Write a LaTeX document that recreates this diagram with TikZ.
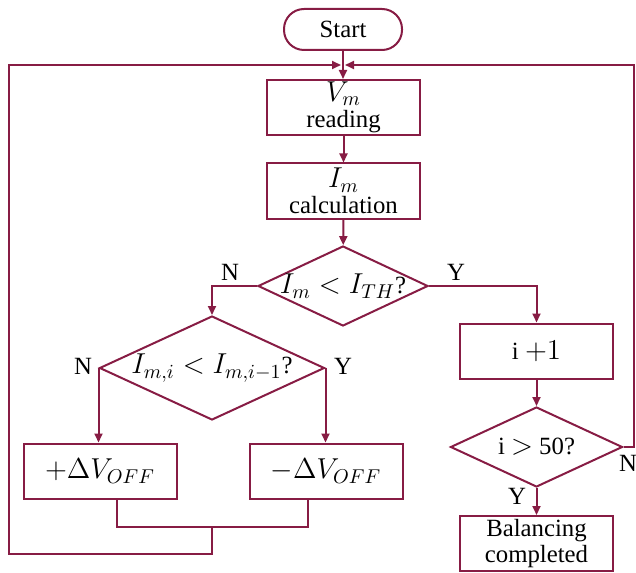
\documentclass[tikz,border=0pt]{standalone}
\usepackage{fontspec}
\setmainfont{Liberation Serif}[Scale=0.885]
\usetikzlibrary{arrows.meta,shapes.geometric}
\definecolor{wine}{RGB}{135,28,68}
\begin{document}
\begin{tikzpicture}[x=0.5pt,y=-0.5pt,
  every node/.style={font=\fontsize{14}{13}\selectfont},
  box/.style={draw=wine,line width=1pt,minimum width=76.5pt,minimum height=27.5pt,align=center,inner sep=1pt},
  startbox/.style={draw=wine,line width=1pt,rounded corners=10pt,minimum width=59pt,minimum height=20.5pt},
  decision/.style={draw=wine,line width=1pt,diamond,aspect=2.1,inner sep=-6pt},
  conn/.style={draw=wine,line width=1pt},
  arr/.style={conn,-{Triangle[length=4.5pt,width=4pt]}},
  lbl/.style={font=\fontsize{14}{13}\selectfont}]
\useasboundingbox (0,0) rectangle (636,572);
\node[startbox] (start) at (343,29.5) {Start};
\node[box] (vm) at (343.5,107.5) {$V_m$\\reading};
\node[box] (im) at (343.5,191) {$I_m$\\calculation};
\node[decision,minimum width=85pt,minimum height=40pt] (d1) at (343,286) {$I_m < I_{TH}$?};
\node[decision,minimum width=112.5pt,minimum height=52pt] (d2) at (212,368) {$I_{m,i} < I_{m,i-1}$?};
\node[box] (plus) at (100,471) {$+\Delta V_{OFF}$};
\node[box] (minus) at (326,471) {$-\Delta V_{OFF}$};
\node[box] (inc) at (536.5,351) {i $+1$};
\node[decision,minimum width=86pt,minimum height=40pt] (d3) at (536.5,447) {i $>$ 50?};
\node[box] (bal) at (536.5,543.5) {Balancing\\completed};
\coordinate (join) at (343,65);
\coordinate (mL) at (117,527);
\coordinate (mR) at (308,527);
\coordinate (mC) at (212,527);
% labels
\node[lbl] (n1) at (230,272) {N};
\node[lbl] (y1) at (456,272) {Y};
\node[lbl] (n2) at (83,366) {N};
\node[lbl] (y2) at (343,366) {Y};
\node[lbl] (n3) at (628,463) {N};
\node[lbl] (y3) at (517,496) {Y};
% connectors
\draw[arr] (start) -- (start |- vm.north);
\draw[arr] (vm) -- (im);
\draw[arr] (im) -- (d1);
\draw[arr] (d1.west) -| (d2.north);
\draw[arr] (d1.east) -| (inc.north);
\draw[arr] (d2.west) -- (d2.west |- plus.north);
\draw[arr] (d2.east) -- (d2.east |- minus.north);
\draw[arr] (inc) -- (d3);
\draw[arr] (d3) -- (bal);
\draw[conn] (plus.south -| mL) -- (mL) -- (mR) -- (minus.south -| mR);
\draw[arr] (mC) -- (212,554) -- (9,554) -- (9,65) -- ([xshift=-1pt]join);
\draw[arr] (d3.east) -- (634,447) -- (634,65) -- ([xshift=1pt]join);
\end{tikzpicture}
\end{document}
